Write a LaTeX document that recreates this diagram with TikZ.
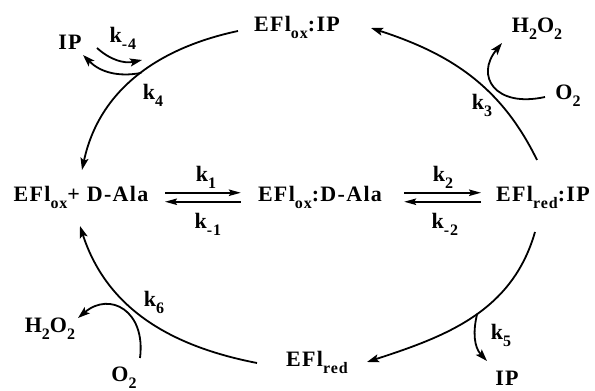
\documentclass[tikz,border=0pt]{standalone}
\usepackage{fontspec}
\setmainfont{Liberation Serif}[LetterSpace=6]
\usetikzlibrary{arrows.meta}
\newcommand{\dn}[1]{\raisebox{-0.3em}{\fontsize{16}{16}\selectfont #1}}

\begin{document}
\begin{tikzpicture}[x=1pt, y=1pt,
    every node/.style={font=\fontsize{22}{25}\selectfont\bfseries, inner sep=1pt},
    chem/.style={anchor=base},
    rxn/.style={line width=1.8pt, -{Stealth[length=12pt, width=8pt, inset=2.5pt]}},
    eq/.style={line width=1.6pt, -{Stealth[length=12pt, width=6.5pt, inset=2pt]}}]
  \useasboundingbox (0,0) rectangle (595,391);

  % enzyme forms
  \node[chem] (oxip)  at (297,359) {EFl\dn{ox}:IP};
  \node[chem] (free)  at (81,189)  {EFl\dn{ox}+ D-Ala};
  \node[chem] (mich)  at (320,189) {EFl\dn{ox}:D-Ala};
  \node[chem] (redip) at (543,189) {EFl\dn{red}:IP};
  \node[chem] (red)   at (317,24)  {EFl\dn{red}};

  % small molecules
  \node[chem] (ipa)  at (70,341)  {IP};
  \node[chem] (ipb)  at (507,5)   {IP};
  \node[chem] (pera) at (537,358) {H\dn{2}O\dn{2}};
  \node[chem] (oxa)  at (568,291) {O\dn{2}};
  \node[chem] (perb) at (50,58)   {H\dn{2}O\dn{2}};
  \node[chem] (oxb)  at (124,9)   {O\dn{2}};

  % rate constants
  \node[chem] (km4) at (123,348) {k\dn{-4}};
  \node[chem] (k4)  at (153,291) {k\dn{4}};
  \node[chem] (k3)  at (482,281) {k\dn{3}};
  \node[chem] (k1)  at (206,209) {k\dn{1}};
  \node[chem] (km1) at (208,162) {k\dn{-1}};
  \node[chem] (k2)  at (443,209) {k\dn{2}};
  \node[chem] (km2) at (445,162) {k\dn{-2}};
  \node[chem] (k5)  at (501,51)  {k\dn{5}};
  \node[chem] (k6)  at (154,84)  {k\dn{6}};

  % ends of the four arcs
  \coordinate (tlA) at (238,360);
  \coordinate (tlB) at (82,221);
  \coordinate (trA) at (537,231);
  \coordinate (trB) at (371,363);
  \coordinate (brA) at (535,159);
  \coordinate (brB) at (367,29);
  \coordinate (blA) at (257,28);
  \coordinate (blB) at (80,165);

  % ends of the side arrows
  \coordinate (s4a) at (97,343);
  \coordinate (s4b) at (142,331);
  \coordinate (s4c) at (83,336);
  \coordinate (s3a) at (545,294);
  \coordinate (s3b) at (502,348);
  \coordinate (s6a) at (140,33);
  \coordinate (s6b) at (78,73);
  \coordinate (s5b) at (487,30);

  % the cycle
  \draw[rxn] (tlA) to[out=192, in=78] coordinate[pos=0.47] (j4) (tlB);
  \draw[rxn] (trA) to[out=116, in=342] (trB);
  \draw[rxn] (brA) to[out=254, in=18] coordinate[pos=0.47] (j5) (brB);
  \draw[rxn] (blA) to[out=169, in=288] (blB);

  % equilibria
  \draw[eq, shorten <=15.5pt, shorten >=16pt] ([yshift=5pt]free.east) -- ([yshift=5pt]mich.west);
  \draw[eq, shorten <=16pt, shorten >=15.5pt] ([yshift=-4pt]mich.west) -- ([yshift=-4pt]free.east);
  \draw[eq, shorten <=21pt, shorten >=14pt] ([yshift=5pt]mich.east) -- ([yshift=5pt]redip.west);
  \draw[eq, shorten <=14pt, shorten >=21pt] ([yshift=-4pt]redip.west) -- ([yshift=-4pt]mich.east);

  % side reactions
  \draw[rxn] (s4a) to[out=318, in=192] (s4b);
  \draw[rxn] (j4) to[out=191, in=315] (s4c);
  \draw[rxn] (s3a) .. controls +(-50,-11) and +(-27,-33) .. (s3b);
  \draw[rxn] (s6a) .. controls +(6,47) and +(32,27) .. (s6b);
  \draw[rxn] (j5) to[out=256, in=133] (s5b);
\end{tikzpicture}
\end{document}
